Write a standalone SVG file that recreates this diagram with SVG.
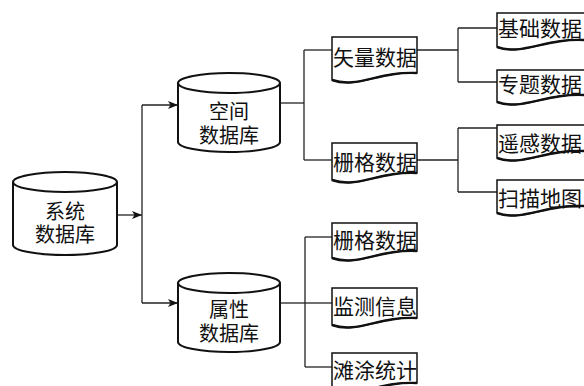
<svg xmlns="http://www.w3.org/2000/svg" width="584" height="386" viewBox="0 0 584 386">
  <style>
    .cyl { fill: #ffffff; stroke: #111111; stroke-width: 2; }
    .doc { fill: #ffffff; stroke: #111111; stroke-width: 1.5; stroke-linejoin: miter; }
    .wave { fill: none; stroke: #111111; stroke-width: 2.4; }
    .edge { fill: none; stroke: #222222; stroke-width: 1.3; }
    .lbl { font-family: "Noto Sans CJK SC", "Noto Sans CJK JP", sans-serif; font-size: 20px; fill: #111111; }
    .dlbl { font-family: "Noto Sans CJK SC", "Noto Sans CJK JP", sans-serif; font-size: 21px; fill: #111111; }
  </style>
  <defs>
    <marker id="arrow" viewBox="0 0 10 8" refX="10" refY="4" markerWidth="10" markerHeight="8" markerUnits="userSpaceOnUse" orient="auto">
      <path d="M0,0 L10,4 L0,8 L2.5,4 Z" fill="#111111"/>
    </marker>
  </defs>

  <!-- connectors -->
  <g id="connectors">
    <line class="edge" x1="117" y1="215" x2="142" y2="215" marker-end="url(#arrow)"/>
    <line class="edge" x1="142" y1="105" x2="142" y2="303"/>
    <line class="edge" x1="142" y1="105" x2="178" y2="105" marker-end="url(#arrow)"/>
    <line class="edge" x1="142" y1="303" x2="178" y2="303" marker-end="url(#arrow)"/>

    <line class="edge" x1="280" y1="103" x2="304" y2="103"/>
    <line class="edge" x1="304" y1="50" x2="304" y2="160"/>
    <line class="edge" x1="304" y1="50" x2="332" y2="50"/>
    <line class="edge" x1="304" y1="160" x2="332" y2="160"/>

    <line class="edge" x1="417" y1="50" x2="458" y2="50"/>
    <line class="edge" x1="458" y1="28" x2="458" y2="82"/>
    <line class="edge" x1="458" y1="28" x2="497" y2="28"/>
    <line class="edge" x1="458" y1="82" x2="497" y2="82"/>

    <line class="edge" x1="417" y1="160" x2="458" y2="160"/>
    <line class="edge" x1="458" y1="128" x2="458" y2="192"/>
    <line class="edge" x1="458" y1="128" x2="497" y2="128"/>
    <line class="edge" x1="458" y1="192" x2="497" y2="192"/>

    <line class="edge" x1="280" y1="303" x2="305" y2="303"/>
    <line class="edge" x1="305" y1="237" x2="305" y2="367"/>
    <line class="edge" x1="305" y1="237" x2="332" y2="237"/>
    <line class="edge" x1="305" y1="303" x2="332" y2="303"/>
    <line class="edge" x1="305" y1="367" x2="332" y2="367"/>
  </g>

  <!-- databases (cylinders), two-line labels -->
  <g id="db-system" transform="translate(13,172)">
    <path class="cyl" d="M0,10 A52,10 0 0 1 104,10 V73 A52,10 0 0 1 0,73 Z"/>
    <path class="cyl" d="M0,10 A52,10 0 0 0 104,10" fill="none"/>
    <text class="lbl" text-anchor="middle"><tspan x="52" y="46.5">系统</tspan><tspan x="52" y="69.5">数据库</tspan></text>
  </g>
  <g id="db-spatial" transform="translate(178,73)">
    <path class="cyl" d="M0,10 A51,10 0 0 1 102,10 V69 A51,10 0 0 1 0,69 Z"/>
    <path class="cyl" d="M0,10 A51,10 0 0 0 102,10" fill="none"/>
    <text class="lbl" text-anchor="middle"><tspan x="51" y="45.5">空间</tspan><tspan x="51" y="69.5">数据库</tspan></text>
  </g>
  <g id="db-attribute" transform="translate(178,273)">
    <path class="cyl" d="M0,10 A51,10 0 0 1 102,10 V69 A51,10 0 0 1 0,69 Z"/>
    <path class="cyl" d="M0,10 A51,10 0 0 0 102,10" fill="none"/>
    <text class="lbl" text-anchor="middle"><tspan x="51" y="43.5">属性</tspan><tspan x="51" y="68">数据库</tspan></text>
  </g>

  <!-- data documents, second level -->
  <g id="doc-vector">
    <path class="doc" d="M332,37 H417 V73 C378.75,71 357.5,89 332,80 Z"/>
    <path class="wave" d="M417,73 C378.75,71 357.5,89 332,80"/>
    <text class="dlbl" x="333" y="65">矢量数据</text>
  </g>
  <g id="doc-raster">
    <path class="doc" d="M332,143 H417 V173 C378.75,171 357.5,189 332,180 Z"/>
    <path class="wave" d="M417,173 C378.75,171 357.5,189 332,180"/>
    <text class="dlbl" x="333" y="170">栅格数据</text>
  </g>
  <g id="doc-attr-raster">
    <path class="doc" d="M332,223 H417 V251 C378.75,249 357.5,267 332,258 Z"/>
    <path class="wave" d="M417,251 C378.75,249 357.5,267 332,258"/>
    <text class="dlbl" x="333" y="248">栅格数据</text>
  </g>
  <g id="doc-monitor">
    <path class="doc" d="M332,288 H417 V318 C378.75,316 357.5,334 332,325 Z"/>
    <path class="wave" d="M417,318 C378.75,316 357.5,334 332,325"/>
    <text class="dlbl" x="333" y="314">监测信息</text>
  </g>
  <g id="doc-tidal">
    <path class="doc" d="M332,353 H417 V383 C378.75,381 357.5,399 332,390 Z"/>
    <path class="wave" d="M417,383 C378.75,381 357.5,399 332,390"/>
    <text class="dlbl" x="333" y="378">滩涂统计</text>
  </g>

  <!-- data documents, third level -->
  <g id="doc-base">
    <path class="doc" d="M497,13 H585 V40 C545,38 523,56 497,47 Z"/>
    <path class="wave" d="M585,40 C545,38 523,56 497,47"/>
    <text class="dlbl" x="498" y="36">基础数据</text>
  </g>
  <g id="doc-thematic">
    <path class="doc" d="M497,70 H585 V95 C545,93 523,111 497,102 Z"/>
    <path class="wave" d="M585,95 C545,93 523,111 497,102"/>
    <text class="dlbl" x="498" y="92">专题数据</text>
  </g>
  <g id="doc-remote">
    <path class="doc" d="M497,125 H585 V151 C545,149 523,167 497,158 Z"/>
    <path class="wave" d="M585,151 C545,149 523,167 497,158"/>
    <text class="dlbl" x="498" y="150.5">遥感数据</text>
  </g>
  <g id="doc-scan">
    <path class="doc" d="M497,180 H585 V206 C545,204 523,222 497,213 Z"/>
    <path class="wave" d="M585,206 C545,204 523,222 497,213"/>
    <text class="dlbl" x="498" y="205.5">扫描地图</text>
  </g>
</svg>
